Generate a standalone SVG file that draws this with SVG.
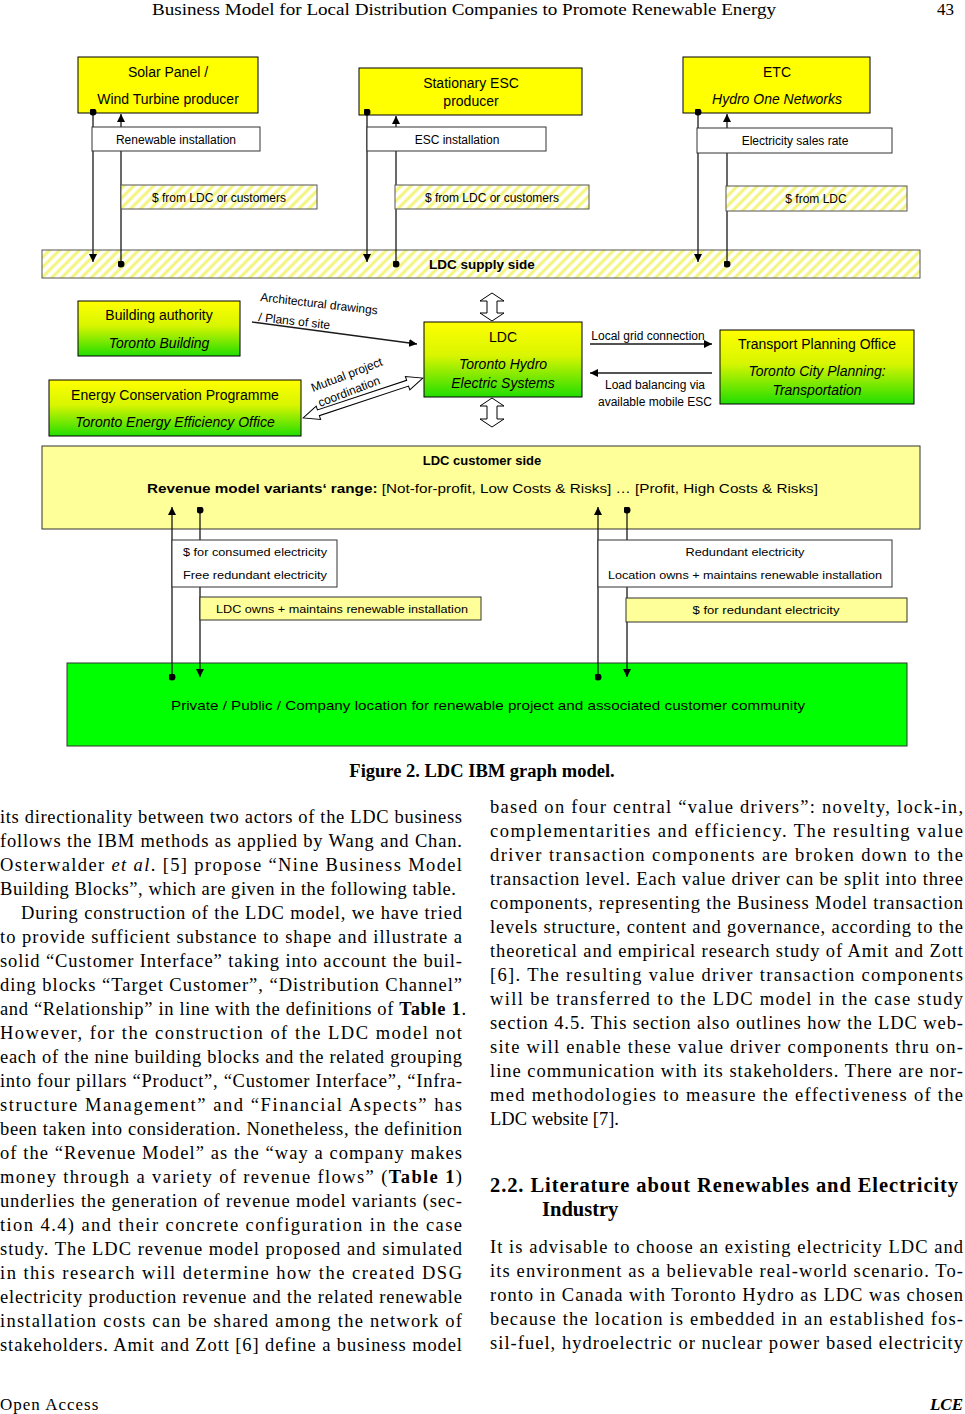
<svg xmlns="http://www.w3.org/2000/svg" width="965" height="1414" viewBox="0 0 965 1414">
<style>
.d{font-family:"Liberation Sans",Arial,sans-serif;fill:#000}
.t14{font-size:14px}
.t12{font-size:12px}
.t11{font-size:11.5px}
.b{font-weight:bold}
.i{font-style:italic}
.box{stroke:#000;stroke-width:1}
.lbl{fill:#fff;stroke:#333;stroke-width:1}
.lyel{fill:#ffff99;stroke:#333;stroke-width:1}
.ln{fill:none;stroke:#1a1a1a;stroke-width:1.3}
.body{font-family:"Liberation Serif","Times New Roman",serif;font-size:18.5px;fill:#000}
.blk{fill:#fff;stroke:#000;stroke-width:1}
</style>
<defs>
<pattern id="hatch" width="7" height="7" patternUnits="userSpaceOnUse" patternTransform="rotate(45)">
<rect width="7" height="7" fill="#ffffff"/>
<line x1="2" y1="0" x2="2" y2="7" stroke="#f4f47a" stroke-width="3"/>
</pattern>
<linearGradient id="yg" x1="0" y1="0" x2="0" y2="1">
<stop offset="0" stop-color="#ffff00"/>
<stop offset="0.45" stop-color="#d8f500"/>
<stop offset="1" stop-color="#22dd00"/>
</linearGradient>
<marker id="arr" viewBox="0 0 10 10" refX="10" refY="5" markerWidth="8" markerHeight="8" markerUnits="userSpaceOnUse" orient="auto">
<path d="M0,0 L10,5 L0,10 z" fill="#000"/>
</marker>
<marker id="dot" viewBox="0 0 10 10" refX="5" refY="5" markerWidth="7" markerHeight="7" markerUnits="userSpaceOnUse">
<circle cx="5" cy="5" r="5" fill="#000"/>
</marker>
</defs>
<rect width="965" height="1414" fill="#fff"/>

<!-- page header -->
<g id="header" class="body">
<text x="152" y="15" font-size="17" textLength="624" lengthAdjust="spacingAndGlyphs">Business Model for Local Distribution Companies to Promote Renewable Energy</text>
<text x="937" y="15" font-size="17">43</text>
</g>

<!-- nodes -->
<g id="n-solar">
<rect x="78" y="57" width="180" height="56" fill="#ffff00" class="box"/>
<text class="d t14" x="168" y="77" text-anchor="middle">Solar Panel /</text>
<text class="d t14" x="168" y="104" text-anchor="middle">Wind Turbine producer</text>
</g>
<g id="n-esc">
<rect x="359" y="68" width="223" height="47" fill="#ffff00" class="box"/>
<text class="d t14" x="471" y="88" text-anchor="middle">Stationary ESC</text>
<text class="d t14" x="471" y="106" text-anchor="middle">producer</text>
</g>
<g id="n-etc">
<rect x="683" y="57" width="187" height="56" fill="#ffff00" class="box"/>
<text class="d t14" x="777" y="77" text-anchor="middle">ETC</text>
<text class="d t14 i" x="777" y="104" text-anchor="middle">Hydro One Networks</text>
</g>
<g id="n-supply">
<rect x="42" y="250" width="878" height="28" fill="url(#hatch)" stroke="#555" stroke-width="1"/>
<text class="d b" font-size="13.5" x="482" y="269" text-anchor="middle">LDC supply side</text>
</g>
<g id="n-building">
<rect x="78" y="301" width="162" height="55" fill="url(#yg)" class="box"/>
<text class="d t14" x="159" y="320" text-anchor="middle">Building authority</text>
<text class="d t14 i" x="159" y="348" text-anchor="middle">Toronto Building</text>
</g>
<g id="n-energy">
<rect x="49" y="380" width="252" height="56" fill="url(#yg)" class="box"/>
<text class="d t14" x="175" y="400" text-anchor="middle">Energy Conservation Programme</text>
<text class="d t14 i" x="175" y="427" text-anchor="middle">Toronto Energy Efficiency Office</text>
</g>
<g id="n-ldc">
<rect x="424" y="322" width="158" height="75" fill="url(#yg)" class="box"/>
<text class="d t14" x="503" y="342" text-anchor="middle">LDC</text>
<text class="d t14 i" x="503" y="369" text-anchor="middle">Toronto Hydro</text>
<text class="d t14 i" x="503" y="388" text-anchor="middle">Electric Systems</text>
</g>
<g id="n-transport">
<rect x="720" y="330" width="194" height="74" fill="url(#yg)" class="box"/>
<text class="d t14" x="817" y="349" text-anchor="middle">Transport Planning Office</text>
<text class="d t14 i" x="817" y="376" text-anchor="middle">Toronto City Planning:</text>
<text class="d t14 i" x="817" y="395" text-anchor="middle">Transportation</text>
</g>
<g id="n-customer">
<rect x="42" y="446" width="878" height="83" fill="#ffff99" stroke="#333" stroke-width="1"/>
<text class="d b" font-size="13" x="482" y="465" text-anchor="middle">LDC customer side</text>
<text class="d" font-size="13" x="147" y="493" textLength="671" lengthAdjust="spacingAndGlyphs"><tspan font-weight="bold">Revenue model variants‘ range:</tspan> [Not-for-profit, Low Costs &amp; Risks] … [Profit, High Costs &amp; Risks]</text>
</g>
<g id="n-location">
<rect x="67" y="663" width="840" height="83" fill="#00ff00" stroke="#333" stroke-width="1"/>
<text class="d" font-size="13" x="171" y="710" textLength="634" lengthAdjust="spacingAndGlyphs">Private / Public / Company location for renewable project and associated customer community</text>
</g>

<!-- connectors -->
<g id="connectors">
<path class="ln" d="M93,112 V262" marker-start="url(#dot)" marker-end="url(#arr)"/>
<path class="ln" d="M121,264 V114" marker-start="url(#dot)" marker-end="url(#arr)"/>
<path class="ln" d="M367,112 V262" marker-start="url(#dot)" marker-end="url(#arr)"/>
<path class="ln" d="M396,264 V116" marker-start="url(#dot)" marker-end="url(#arr)"/>
<path class="ln" d="M698,112 V262" marker-start="url(#dot)" marker-end="url(#arr)"/>
<path class="ln" d="M727,264 V114" marker-start="url(#dot)" marker-end="url(#arr)"/>

<path class="ln" d="M172,677 V507" marker-start="url(#dot)" marker-end="url(#arr)"/>
<path class="ln" d="M200,510 V677" marker-start="url(#dot)" marker-end="url(#arr)"/>
<path class="ln" d="M598,677 V507" marker-start="url(#dot)" marker-end="url(#arr)"/>
<path class="ln" d="M627,510 V677" marker-start="url(#dot)" marker-end="url(#arr)"/>

<path class="ln" d="M252,322 L417,344" marker-end="url(#arr)"/>
<path class="ln" d="M590,344 H712" marker-end="url(#arr)"/>
<path class="ln" d="M712,373 H590" marker-end="url(#arr)"/>

<!-- block double arrows -->
<path class="blk" d="M492,293 L504,301 L497,301 L497,313 L504,313 L492,321 L480,313 L487,313 L487,301 L480,301 Z"/>
<path class="blk" d="M492,427 L504,419 L497,419 L497,406 L504,406 L492,398 L480,406 L487,406 L487,419 L480,419 Z"/>
<path class="blk" transform="translate(363,398) rotate(-18.4)" d="M-63,0 L-47,-7 L-47,-3 L47,-3 L47,-7 L63,0 L47,7 L47,3 L-47,3 L-47,7 Z"/>

<!-- connector labels -->
<rect x="92" y="127" width="168" height="24" class="lbl"/>
<text class="d t12" x="176" y="143.5" text-anchor="middle">Renewable installation</text>
<rect x="367" y="127" width="179" height="24" class="lbl"/>
<text class="d t12" x="457" y="143.5" text-anchor="middle">ESC installation</text>
<rect x="697" y="128" width="195" height="25" class="lbl"/>
<text class="d t12" x="795" y="145" text-anchor="middle">Electricity sales rate</text>

<rect x="121" y="185" width="196" height="24" fill="url(#hatch)" stroke="#555" stroke-width="1"/>
<text class="d t12" x="219" y="201.5" text-anchor="middle">$ from LDC or customers</text>
<rect x="395" y="185" width="194" height="24" fill="url(#hatch)" stroke="#555" stroke-width="1"/>
<text class="d t12" x="492" y="201.5" text-anchor="middle">$ from LDC or customers</text>
<rect x="726" y="186" width="181" height="25" fill="url(#hatch)" stroke="#555" stroke-width="1"/>
<text class="d t12" x="816" y="203" text-anchor="middle">$ from LDC</text>

<text class="d t12" transform="rotate(6.5 260 301)" x="260" y="301">Architectural drawings</text>
<text class="d t12" transform="rotate(6.5 258 321)" x="258" y="321">/ Plans of site</text>
<text class="d t12" transform="rotate(-21 313 392)" x="313" y="392">Mutual project</text>
<text class="d t12" transform="rotate(-21 320 407)" x="320" y="407">coordination</text>

<text class="d t12" x="648" y="340" text-anchor="middle">Local grid connection</text>
<text class="d t12" x="655" y="389" text-anchor="middle">Load balancing via</text>
<text class="d t12" x="655" y="406" text-anchor="middle">available mobile ESC</text>

<rect x="172" y="540" width="165" height="47" class="lbl"/>
<text class="d t11" x="255" y="556" text-anchor="middle" textLength="144" lengthAdjust="spacingAndGlyphs">$ for consumed electricity</text>
<text class="d t11" x="255" y="579" text-anchor="middle" textLength="144" lengthAdjust="spacingAndGlyphs">Free redundant electricity</text>
<rect x="200" y="597" width="281" height="23" class="lyel"/>
<text class="d t11" x="342" y="612.5" text-anchor="middle" textLength="252" lengthAdjust="spacingAndGlyphs">LDC owns + maintains renewable installation</text>
<rect x="598" y="540" width="294" height="47" class="lbl"/>
<text class="d t11" x="745" y="556" text-anchor="middle" textLength="119" lengthAdjust="spacingAndGlyphs">Redundant electricity</text>
<text class="d t11" x="745" y="579" text-anchor="middle" textLength="274" lengthAdjust="spacingAndGlyphs">Location owns + maintains renewable installation</text>
<rect x="626" y="598" width="281" height="24" class="lyel"/>
<text class="d t11" x="766" y="614" text-anchor="middle" textLength="147" lengthAdjust="spacingAndGlyphs">$ for redundant  electricity</text>
</g>

<!-- caption -->
<text class="body" font-size="16" font-weight="bold" x="482" y="777" text-anchor="middle">Figure 2. LDC IBM graph model.</text>

<!-- left column -->
<g id="left-col" class="body">
<text x="0" y="823" textLength="462" lengthAdjust="spacing">its directionality between two actors of the LDC business</text>
<text x="0" y="847" textLength="462" lengthAdjust="spacing">follows the IBM methods as applied by Wang and Chan.</text>
<text x="0" y="871" textLength="462" lengthAdjust="spacing">Osterwalder <tspan font-style="italic">et al</tspan>. [5] propose “Nine Business Model</text>
<text x="0" y="895" textLength="456" lengthAdjust="spacing">Building Blocks”, which are given in the following table.</text>
<text x="21" y="919" textLength="441" lengthAdjust="spacing">During construction of the LDC model, we have tried</text>
<text x="0" y="943" textLength="462" lengthAdjust="spacing">to provide sufficient substance to shape and illustrate a</text>
<text x="0" y="967" textLength="462" lengthAdjust="spacing">solid “Customer Interface” taking into account the buil-</text>
<text x="0" y="991" textLength="462" lengthAdjust="spacing">ding blocks “Target Customer”, “Distribution Channel”</text>
<text x="0" y="1015" textLength="466" lengthAdjust="spacing">and “Relationship” in line with the definitions of <tspan font-weight="bold">Table 1</tspan>.</text>
<text x="0" y="1039" textLength="462" lengthAdjust="spacing">However, for the construction of the LDC model not</text>
<text x="0" y="1063" textLength="462" lengthAdjust="spacing">each of the nine building blocks and the related grouping</text>
<text x="0" y="1087" textLength="462" lengthAdjust="spacing">into four pillars “Product”, “Customer Interface”, “Infra-</text>
<text x="0" y="1111" textLength="462" lengthAdjust="spacing">structure Management” and “Financial Aspects” has</text>
<text x="0" y="1135" textLength="462" lengthAdjust="spacing">been taken into consideration. Nonetheless, the definition</text>
<text x="0" y="1159" textLength="462" lengthAdjust="spacing">of the “Revenue Model” as the “way a company makes</text>
<text x="0" y="1183" textLength="462" lengthAdjust="spacing">money through a variety of revenue flows” (<tspan font-weight="bold">Table 1</tspan>)</text>
<text x="0" y="1207" textLength="462" lengthAdjust="spacing">underlies the generation of revenue model variants (sec-</text>
<text x="0" y="1231" textLength="462" lengthAdjust="spacing">tion 4.4) and their concrete configuration in the case</text>
<text x="0" y="1255" textLength="462" lengthAdjust="spacing">study. The LDC revenue model proposed and simulated</text>
<text x="0" y="1279" textLength="462" lengthAdjust="spacing">in this research will determine how the created DSG</text>
<text x="0" y="1303" textLength="462" lengthAdjust="spacing">electricity production revenue and the related renewable</text>
<text x="0" y="1327" textLength="462" lengthAdjust="spacing">installation costs can be shared among the network of</text>
<text x="0" y="1351" textLength="462" lengthAdjust="spacing">stakeholders. Amit and Zott [6] define a business model</text>
</g>

<!-- right column -->
<g id="right-col" class="body">
<text x="490" y="813" textLength="473" lengthAdjust="spacing">based on four central “value drivers”: novelty, lock-in,</text>
<text x="490" y="837" textLength="473" lengthAdjust="spacing">complementarities and efficiency. The resulting value</text>
<text x="490" y="861" textLength="473" lengthAdjust="spacing">driver transaction components are broken down to the</text>
<text x="490" y="885" textLength="473" lengthAdjust="spacing">transaction level. Each value driver can be split into three</text>
<text x="490" y="909" textLength="473" lengthAdjust="spacing">components, representing the Business Model transaction</text>
<text x="490" y="933" textLength="473" lengthAdjust="spacing">levels structure, content and governance, according to the</text>
<text x="490" y="957" textLength="473" lengthAdjust="spacing">theoretical and empirical research study of Amit and Zott</text>
<text x="490" y="981" textLength="473" lengthAdjust="spacing">[6]. The resulting value driver transaction components</text>
<text x="490" y="1005" textLength="473" lengthAdjust="spacing">will be transferred to the LDC model in the case study</text>
<text x="490" y="1029" textLength="473" lengthAdjust="spacing">section 4.5. This section also outlines how the LDC web-</text>
<text x="490" y="1053" textLength="473" lengthAdjust="spacing">site will enable these value driver components thru on-</text>
<text x="490" y="1077" textLength="473" lengthAdjust="spacing">line communication with its stakeholders. There are nor-</text>
<text x="490" y="1101" textLength="473" lengthAdjust="spacing">med methodologies to measure the effectiveness of the</text>
<text x="490" y="1125">LDC website [7].</text>
<text x="490" y="1192" font-size="20.5" font-weight="bold" textLength="468" lengthAdjust="spacing">2.2. Literature about Renewables and Electricity</text>
<text x="542" y="1216" font-size="20.5" font-weight="bold">Industry</text>
<text x="490" y="1253" textLength="473" lengthAdjust="spacing">It is advisable to choose an existing electricity LDC and</text>
<text x="490" y="1277" textLength="473" lengthAdjust="spacing">its environment as a believable real-world scenario. To-</text>
<text x="490" y="1301" textLength="473" lengthAdjust="spacing">ronto in Canada with Toronto Hydro as LDC was chosen</text>
<text x="490" y="1325" textLength="473" lengthAdjust="spacing">because the location is embedded in an established fos-</text>
<text x="490" y="1349" textLength="473" lengthAdjust="spacing">sil-fuel, hydroelectric or nuclear power based electricity</text>
</g>

<!-- footer -->
<g id="footer" class="body">
<text x="0" y="1410" font-size="17" letter-spacing="1">Open  Access</text>
<text x="963" y="1410" font-size="17" font-weight="bold" font-style="italic" text-anchor="end">LCE</text>
</g>
</svg>
